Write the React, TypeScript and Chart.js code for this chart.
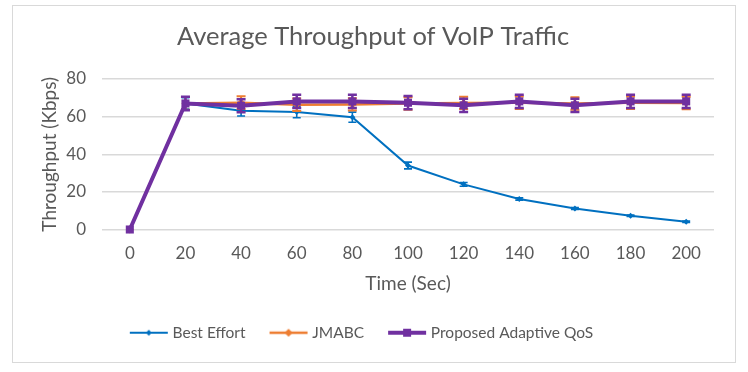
import React, { useEffect, useRef } from 'react';
import { Chart, registerables } from 'chart.js';

Chart.register(...registerables);

const chartTitle = 'Average Throughput of VoIP Traffic';
const xAxisTitle = 'Time (Sec)';
const yAxisTitle = 'Throughput (Kbps)';

const timeLabels = ['0', '20', '40', '60', '80', '100', '120', '140', '160', '180', '200'];
const yTicks = [0, 20, 40, 60, 80];

const seriesNames = ['Best Effort', 'JMABC', 'Proposed Adaptive QoS'];

const bestEffort = [0, 67, 63.1, 62.4, 59.7, 34, 24, 16.2, 11.2, 7.3, 4.1];
const bestEffortErr = [0, 3, 2.8, 3, 2.7, 1.8, 1, 0.6, 0.5, 0.4, 0.4];

const jmabc = [0, 67, 67.4, 66.3, 66.5, 67, 67.3, 67.4, 67, 67.4, 67.2];
const jmabcErr = [0, 3.4, 3.4, 3.3, 3.3, 3.3, 3.3, 3.3, 3.3, 3.3, 3.3];

const proposed = [0, 67, 65.8, 68.1, 68.1, 67.4, 66, 68.1, 66, 68.1, 68.1];
const proposedErr = [0, 3.6, 3.5, 3.5, 3.5, 3.5, 3.5, 3.5, 3.5, 3.5, 3.5];

const FONT = 'Lato, "Open Sans", sans-serif';
const TEXT = '#595959';

function makeLegendImage(color: string, lineWidth: number, marker: 'diamond' | 'square', size: number) {
  const c = document.createElement('canvas');
  c.width = 40;
  c.height = 12;
  const g = c.getContext('2d')!;
  g.strokeStyle = color;
  g.fillStyle = color;
  g.lineWidth = lineWidth;
  g.beginPath();
  g.moveTo(1, 6);
  g.lineTo(39, 6);
  g.stroke();
  g.beginPath();
  if (marker === 'diamond') {
    g.moveTo(20, 6 - size);
    g.lineTo(20 + size, 6);
    g.lineTo(20, 6 + size);
    g.lineTo(20 - size, 6);
    g.closePath();
  } else {
    g.rect(20 - size, 6 - size, size * 2, size * 2);
  }
  g.fill();
  return c;
}

const frame = {
  id: 'frame',
  beforeDraw(chart: any) {
    const ctx = chart.ctx;
    ctx.save();
    ctx.fillStyle = '#ffffff';
    ctx.fillRect(0, 0, chart.width, chart.height);
    ctx.strokeStyle = '#d9d9d9';
    ctx.lineWidth = 1;
    ctx.strokeRect(12.5, 5.5, 723, 357);
    ctx.restore();
  },
  afterDraw(chart: any) {
    const ctx = chart.ctx;
    ctx.save();
    ctx.fillStyle = TEXT;
    ctx.font = `25.5px ${FONT}`;
    ctx.textAlign = 'center';
    ctx.textBaseline = 'alphabetic';
    ctx.fillText(chartTitle, 373, 45);
    ctx.restore();
  },
};

const errorBars = {
  id: 'errorBars',
  afterDatasetDraw(chart: any, args: any) {
    const ds = chart.data.datasets[args.index];
    const errs: number[] | undefined = ds.errors;
    if (!errs) return;
    const yScale = chart.scales.y;
    const ctx = chart.ctx;
    const cap = ds.errorCap;
    ctx.save();
    ctx.strokeStyle = ds.borderColor;
    ctx.lineWidth = ds.errorWidth;
    args.meta.data.forEach((pt: any, i: number) => {
      const e = errs[i];
      if (!e) return;
      const v = ds.data[i];
      const x = pt.x;
      const y1 = yScale.getPixelForValue(v + e);
      const y2 = yScale.getPixelForValue(v - e);
      ctx.beginPath();
      ctx.moveTo(x, y1);
      ctx.lineTo(x, y2);
      ctx.moveTo(x - cap, y1);
      ctx.lineTo(x + cap, y1);
      ctx.moveTo(x - cap, y2);
      ctx.lineTo(x + cap, y2);
      ctx.stroke();
    });
    ctx.restore();
  },
};

export default function App() {
  const ref = useRef<HTMLCanvasElement>(null);

  useEffect(() => {
    if (!ref.current) return;
    const legendImages = [
      makeLegendImage('#0070C0', 2, 'diamond', 3),
      makeLegendImage('#ED7D31', 2.5, 'diamond', 4),
      makeLegendImage('#7030A0', 4, 'square', 4),
    ];
    const colors = ['#0070C0', '#ED7D31', '#7030A0'];

    const chart = new Chart(ref.current, {
      type: 'line',
      data: {
        labels: timeLabels,
        datasets: [
          {
            label: seriesNames[0],
            data: bestEffort,
            borderColor: colors[0],
            backgroundColor: colors[0],
            borderWidth: 2,
            pointStyle: 'rectRot',
            pointRadius: 3,
            pointBorderWidth: 0,
            tension: 0,
            clip: false,
            order: 3,
            errors: bestEffortErr,
            errorWidth: 1.6,
            errorCap: 4,
          } as any,
          {
            label: seriesNames[1],
            data: jmabc,
            borderColor: colors[1],
            backgroundColor: colors[1],
            borderWidth: 2.5,
            pointStyle: 'rectRot',
            pointRadius: 4,
            pointBorderWidth: 0,
            tension: 0,
            clip: false,
            order: 2,
            errors: jmabcErr,
            errorWidth: 2,
            errorCap: 4.5,
          } as any,
          {
            label: seriesNames[2],
            data: proposed,
            borderColor: colors[2],
            backgroundColor: colors[2],
            borderWidth: 4,
            pointStyle: 'rect',
            pointRadius: 5.7,
            pointBorderWidth: 0,
            tension: 0,
            clip: false,
            order: 1,
            errors: proposedErr,
            errorWidth: 2.5,
            errorCap: 4.5,
          } as any,
        ],
      },
      options: {
        responsive: false,
        animation: false,
        layout: { padding: { left: 12, right: 34, top: 79, bottom: 21.5 } },
        plugins: {
          title: { display: false },
          tooltip: { enabled: false },
          legend: {
            display: true,
            position: 'bottom',
            labels: {
              usePointStyle: true,
              pointStyleWidth: 32,
              padding: 27,
              color: TEXT,
              font: { family: FONT, size: 15.5 },
              generateLabels: () =>
                seriesNames.map((name, i) => ({
                  text: name,
                  pointStyle: legendImages[i],
                  fillStyle: colors[i],
                  strokeStyle: colors[i],
                  lineWidth: 0,
                  fontColor: TEXT,
                  hidden: false,
                  datasetIndex: i,
                })) as any,
            },
          },
        },
        scales: {
          x: {
            type: 'category',
            offset: true,
            grid: { display: false, drawTicks: false },
            border: { display: false },
            ticks: { color: TEXT, font: { family: FONT, size: 17 }, padding: 14, maxRotation: 0 },
            title: {
              display: true,
              text: xAxisTitle,
              color: TEXT,
              font: { family: FONT, size: 19 },
              padding: { top: 0, bottom: 3 },
            },
            afterFit: (scale: any) => {
              scale.height = 68.5;
            },
          },
          y: {
            min: 0,
            max: 80,
            afterBuildTicks: (scale: any) => {
              scale.ticks = yTicks.map((v) => ({ value: v }));
            },
            grid: { color: '#d9d9d9', lineWidth: 1.5, drawTicks: false },
            border: { display: false },
            ticks: { color: TEXT, font: { family: FONT, size: 17 }, padding: 16 },
            title: {
              display: true,
              text: yAxisTitle,
              color: TEXT,
              font: { family: FONT, size: 19 },
              padding: { top: 26.5, bottom: 0 },
            },
            afterFit: (scale: any) => {
              scale.width = 90;
            },
          },
        },
      },
      plugins: [frame, errorBars],
    });
    return () => chart.destroy();
  }, []);

  return (
    <div style={{ position: 'fixed', left: 0, top: 0, width: 748, height: 372, background: '#fff' }}>
      <canvas ref={ref} width={748} height={372} style={{ display: 'block', width: 748, height: 372 }} />
    </div>
  );
}
